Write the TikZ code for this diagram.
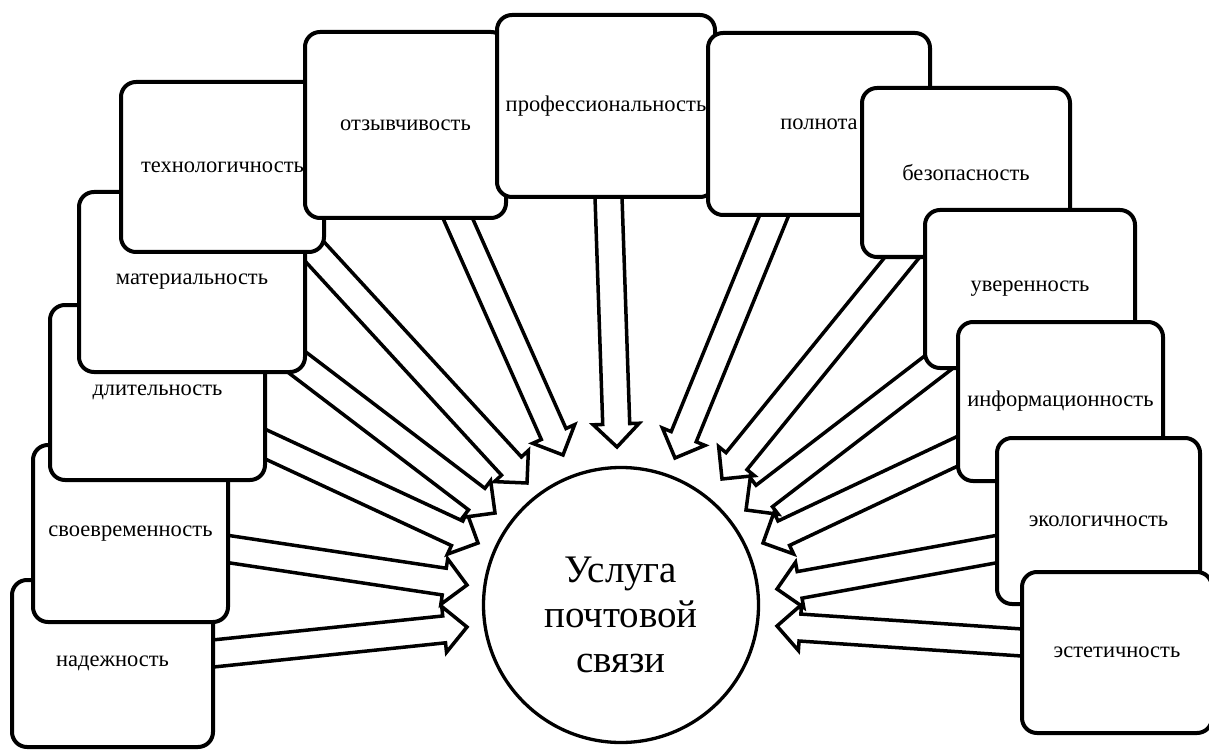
\documentclass[tikz,border=0pt]{standalone}
\usepackage{fontspec}
\setmainfont{Liberation Serif}
\usetikzlibrary{calc}
\tikzset{
  box/.style={rectangle, draw, line width=4pt, rounded corners=15pt, fill=white,
    inner sep=0pt, font=\fontsize{22.5}{27}\selectfont},
  fat/.style={draw, line width=3.5pt, fill=white, line join=miter},
  hub/.style={circle, draw, line width=3.3pt, fill=white, inner sep=0pt,
    minimum size=275pt, align=center, font=\fontsize{39}{45}\selectfont}
}
% #1: point where the shaft leaves its box, #2: tip
\newcommand\fatarrow[2]{%
  \coordinate (#1s) at ($(#1)!-30pt!(#2)$);
  \coordinate (#1h) at ($(#2)!23pt!(#1)$);
  \draw[fat] ($(#1s)!13.5pt!90:(#2)$) -- ($(#1h)!13.5pt!90:(#2)$)
    -- ($(#1h)!23pt!90:(#2)$) -- (#2) -- ($(#1h)!23pt!-90:(#2)$)
    -- ($(#1h)!13.5pt!-90:(#2)$) -- ($(#1s)!13.5pt!-90:(#2)$) -- cycle;
}
\begin{document}
\begin{tikzpicture}[x=1pt,y=-1pt]
\useasboundingbox (0,0) rectangle (1209,751);
\fill[white] (0,0) rectangle (1209,751);

% exit points of the arrows and their tips
\coordinate (e1) at (213,653.5);   \coordinate (t1) at (467,627);
\coordinate (e2) at (228,549);     \coordinate (t2) at (467,585);
\coordinate (e3) at (265,444);     \coordinate (t3) at (478,543);
\coordinate (e4) at (298,363);     \coordinate (t4) at (495,513);
\coordinate (e5) at (315,252);     \coordinate (t5) at (527,483);
\coordinate (e6) at (458.5,220);   \coordinate (t6) at (563,455);
\coordinate (e7) at (608.5,197);   \coordinate (t7) at (617,447);
\coordinate (e8) at (773.5,217);   \coordinate (t8) at (675,458);
\coordinate (e9) at (900,260);     \coordinate (t9) at (722,479);
\coordinate (e10) at (935,365);    \coordinate (t10) at (746,510);
\coordinate (e11) at (958,451);    \coordinate (t11) at (763,543);
\coordinate (e12) at (997,549);    \coordinate (t12) at (777,589);
\coordinate (e13) at (1022,642.5); \coordinate (t13) at (777,626);

% arrows (under the boxes)
\fatarrow{e1}{t1}
\fatarrow{e2}{t2}
\fatarrow{e3}{t3}
\fatarrow{e4}{t4}
\fatarrow{e5}{t5}
\fatarrow{e6}{t6}
\fatarrow{e7}{t7}
\fatarrow{e8}{t8}
\fatarrow{e9}{t9}
\fatarrow{e10}{t10}
\fatarrow{e11}{t11}
\fatarrow{e12}{t12}
\fatarrow{e13}{t13}

% boxes, each later one above the earlier
\node[box, minimum width=201pt, minimum height=167pt] (n1) at (112.5,663.5) {надежность};
\node[box, minimum width=195pt, minimum height=177pt] (n2) at (130.5,533.5) {своевременность};
\node[box, minimum width=215pt, minimum height=175pt] (n3) at (157.5,392.5) {длительность};
\node[box, minimum width=226pt, minimum height=180pt] (n4) at (192,282) {материальность};
\node[box, minimum width=203pt, minimum height=170pt] (n5) at (222.5,167) {технологичность};
\node[box, minimum width=201pt, minimum height=186pt] (n6) at (405.5,125) {отзывчивость};
\node[box, minimum width=218pt, minimum height=182pt] (n7) at (606,106) {профессиональность};
\node[box, minimum width=222pt, minimum height=182pt] (n8) at (819,124) {полнота};
\node[box, minimum width=208pt, minimum height=169pt] (n9) at (966,172.5) {безопасность};
\node[box, minimum width=210pt, minimum height=158pt] (n10) at (1030,289) {уверенность};
\node[box, minimum width=205pt, minimum height=159pt] (n11) at (1060.5,401.5) {информационность};
\node[box, minimum width=203pt, minimum height=166pt] (n12) at (1098.5,521) {экологичность};
\node[box, minimum width=190pt, minimum height=161pt] (n13) at (1117,652.5) {эстетичность};

% centre
\node[hub] (U) at (621,605) {\rule{0pt}{46pt}Услуга\\почтовой\\связи};
\end{tikzpicture}
\end{document}
